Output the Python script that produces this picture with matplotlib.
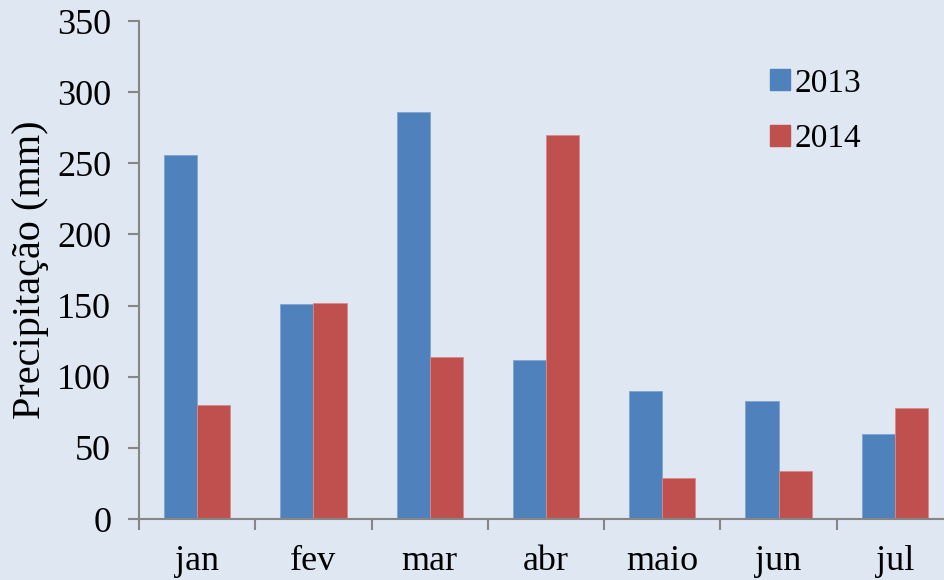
import numpy as np
import matplotlib
matplotlib.use("Agg")
import matplotlib.pyplot as plt
from matplotlib.patches import Patch

meses = ["jan", "fev", "mar", "abr", "maio", "jun", "jul"]
chuva_2013 = [256, 151, 286, 112, 90, 83, 60]
chuva_2014 = [80, 152, 114, 270, 29, 34, 78]

azul = "#4f81bd"
vermelho = "#c0504d"
fundo = "#dfe7f2"
cinza = "#868686"

plt.rcParams["font.family"] = ["Liberation Serif", "DejaVu Serif"]

fig = plt.figure(figsize=(9.44, 5.80), dpi=100, facecolor=fundo)
# eixo passa da borda direita, como no original
ax = fig.add_axes([139 / 944, 61 / 580, 814 / 944, 498 / 580])
ax.set_facecolor(fundo)

x = np.arange(len(meses))
w = 0.285
ax.bar(x - w / 2, chuva_2013, w, color=azul, edgecolor="#7fa3d0", linewidth=0.6, label="2013")
ax.bar(x + w / 2, chuva_2014, w, color=vermelho, edgecolor="#d88a88", linewidth=0.6, label="2014")

ax.set_xlim(-0.5, len(meses) - 0.5)
ax.set_ylim(0, 350)
ax.set_yticks(np.arange(0, 351, 50))
ax.set_xticks(np.arange(-0.5, len(meses), 1.0))
ax.set_xticklabels([])
ax.set_xticks(x, minor=True)
ax.set_xticklabels(meses, minor=True)
ax.tick_params(axis="x", which="minor", length=0, pad=19, labelsize=26)
ax.tick_params(axis="x", which="major", length=8, width=1.5, color=cinza, direction="out")
ax.tick_params(axis="y", length=8, width=1.5, color=cinza, direction="out", labelsize=26, pad=12)

for s in ["top", "right"]:
    ax.spines[s].set_visible(False)
for s in ["left", "bottom"]:
    ax.spines[s].set_color(cinza)
    ax.spines[s].set_linewidth(1.5)

ax.set_ylabel("Precipitação (mm)", fontsize=29, labelpad=6)

handles = [Patch(color=azul), Patch(color=vermelho)]
leg = fig.legend(handles, ["2013", "2014"], loc="upper left", bbox_to_anchor=(740 / 944, 1 - 38 / 580),
                 frameon=False, fontsize=24, handlelength=0.6, handleheight=0.6,
                 handletextpad=0.15, labelspacing=0.75)

fig.savefig("out.png", dpi=100, facecolor=fundo)
